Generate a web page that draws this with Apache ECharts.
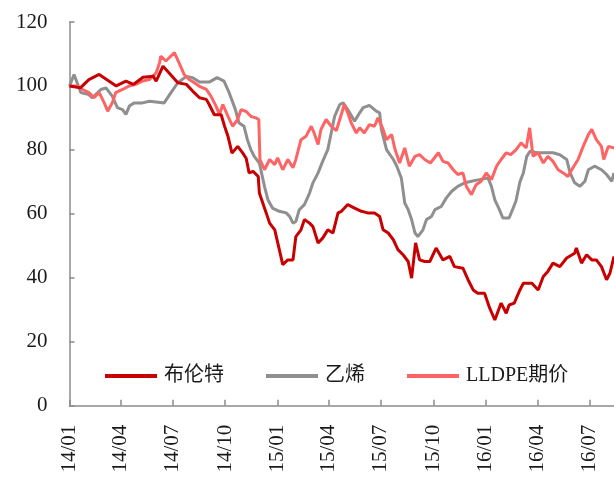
<!DOCTYPE html>
<html>
<head>
<meta charset="utf-8">
<script src="https://cdn.jsdelivr.net/npm/echarts@6/dist/echarts.min.js"></script>
<style>
  html, body { margin: 0; padding: 0; background: #fff; }
  #chart { width: 614px; height: 479px; }
</style>
</head>
<body>
<div id="chart"></div>
<script>
// Daily axis span and quarter tick labels
const startDate = '2014-01-01';
const endDate = '2016-08-13';
const tickLabels = ['14/01', '14/04', '14/07', '14/10', '15/01', '15/04', '15/07', '15/10', '16/01', '16/04', '16/07'];
const yTicks = [0, 20, 40, 60, 80, 100, 120];

// Index series (2014-01-01 = 100)
const brent = [
  ['2014-01-01', 100], ['2014-01-20', 99.4], ['2014-02-04', 102], ['2014-02-22', 103.6], ['2014-03-24', 100], ['2014-04-10', 101.5],
  ['2014-04-23', 100.5], ['2014-05-10', 102.7], ['2014-05-28', 103], ['2014-06-02', 101.5], ['2014-06-14', 106.2],
  ['2014-06-22', 104.6], ['2014-07-10', 101], ['2014-07-25', 100.5], ['2014-08-05', 98.4], ['2014-08-17', 96.3],
  ['2014-08-29', 95.8], ['2014-09-03', 94.2], ['2014-09-12', 91], ['2014-09-24', 91], ['2014-09-30', 87.4],
  ['2014-10-06', 84.2], ['2014-10-13', 79], ['2014-10-23', 81.1], ['2014-11-01', 79], ['2014-11-07', 77.3],
  ['2014-11-12', 72.8], ['2014-11-19', 73.3], ['2014-11-28', 71.7], ['2014-11-30', 66.5], ['2014-12-06', 63.4],
  ['2014-12-12', 60.3], ['2014-12-18', 57.1], ['2014-12-27', 55], ['2015-01-04', 48.8], ['2015-01-10', 44.1],
  ['2015-01-19', 45.6], ['2015-01-28', 45.6], ['2015-02-02', 52.9], ['2015-02-11', 55], ['2015-02-17', 58.2],
  ['2015-02-26', 57.1], ['2015-03-04', 56], ['2015-03-13', 50.9], ['2015-03-21', 52.4], ['2015-03-30', 55],
  ['2015-04-08', 54], ['2015-04-17', 60.3], ['2015-04-23', 60.8], ['2015-05-04', 62.9], ['2015-05-16', 61.8],
  ['2015-05-28', 60.8], ['2015-06-08', 60.3], ['2015-06-20', 60.3], ['2015-06-29', 59.2], ['2015-07-05', 55],
  ['2015-07-14', 54], ['2015-07-23', 51.9], ['2015-07-31', 48.8], ['2015-08-09', 47.2], ['2015-08-18', 45.1],
  ['2015-08-24', 39.9], ['2015-08-31', 50.9], ['2015-09-07', 45.6], ['2015-09-16', 45.1], ['2015-09-25', 45.1],
  ['2015-10-06', 49.3], ['2015-10-18', 45.6], ['2015-10-30', 46.7], ['2015-11-07', 43.5], ['2015-11-22', 43],
  ['2015-12-01', 39.4], ['2015-12-10', 36.2], ['2015-12-18', 35.2], ['2015-12-30', 35.2], ['2016-01-08', 30.5],
  ['2016-01-17', 26.8], ['2016-01-28', 32.1], ['2016-02-06', 28.9], ['2016-02-11', 31.5], ['2016-02-20', 32.1],
  ['2016-02-23', 32.6], ['2016-03-01', 36.2], ['2016-03-07', 38.3], ['2016-03-22', 38.3], ['2016-04-02', 36.2],
  ['2016-04-11', 40.4], ['2016-04-19', 42], ['2016-04-28', 44.6], ['2016-05-10', 43.5], ['2016-05-22', 46.2],
  ['2016-06-05', 47.7], ['2016-06-08', 49.3], ['2016-06-17', 44.6], ['2016-06-26', 47.2], ['2016-07-05', 45.6],
  ['2016-07-13', 45.6], ['2016-07-22', 43.5], ['2016-07-31', 39.4], ['2016-08-06', 41.5], ['2016-08-13', 46.7]
];

const ethylene = [
  ['2014-01-01', 100], ['2014-01-09', 103.6], ['2014-01-21', 97.9], ['2014-02-04', 97.3], ['2014-02-10', 96.3],
  ['2014-02-25', 98.9], ['2014-03-06', 99.4], ['2014-03-17', 96.8], ['2014-03-26', 93.2], ['2014-04-04', 92.6],
  ['2014-04-10', 91.1], ['2014-04-16', 93.7], ['2014-04-24', 94.7], ['2014-05-09', 94.7], ['2014-05-21', 95.2],
  ['2014-06-02', 95], ['2014-06-16', 94.7], ['2014-06-28', 97.9], ['2014-07-10', 101], ['2014-07-25', 103],
  ['2014-08-05', 102.6], ['2014-08-17', 101.2], ['2014-09-03', 101.2], ['2014-09-17', 102.6], ['2014-09-29', 101.5],
  ['2014-10-08', 97.9], ['2014-10-19', 92.6], ['2014-10-25', 88.5], ['2014-11-03', 87.4], ['2014-11-09', 83.2],
  ['2014-11-15', 80.1], ['2014-11-21', 78], ['2014-11-30', 75.9], ['2014-12-09', 68.6], ['2014-12-15', 64.4],
  ['2014-12-23', 61.8], ['2015-01-04', 60.8], ['2015-01-16', 60.3], ['2015-01-22', 59.2], ['2015-01-28', 57.1],
  ['2015-02-02', 57.6], ['2015-02-08', 61.3], ['2015-02-17', 62.9], ['2015-02-26', 66.5], ['2015-03-04', 69.7],
  ['2015-03-13', 72.8], ['2015-03-21', 76.4], ['2015-03-30', 80.1], ['2015-04-05', 85.3], ['2015-04-11', 90.5],
  ['2015-04-20', 94.2], ['2015-04-26', 94.7], ['2015-05-04', 92.6], ['2015-05-16', 89], ['2015-05-25', 91.6],
  ['2015-05-31', 93.2], ['2015-06-11', 93.9], ['2015-06-23', 92.1], ['2015-06-29', 91.6], ['2015-07-02', 86.4],
  ['2015-07-11', 80.1], ['2015-07-23', 77], ['2015-07-29', 74.9], ['2015-08-06', 71.2], ['2015-08-12', 63.4],
  ['2015-08-18', 61.3], ['2015-08-24', 58.2], ['2015-08-30', 54], ['2015-09-04', 52.9], ['2015-09-13', 55],
  ['2015-09-19', 58.2], ['2015-09-28', 59.2], ['2015-10-04', 61.3], ['2015-10-15', 62.3], ['2015-10-24', 65],
  ['2015-11-02', 67], ['2015-11-13', 68.6], ['2015-11-25', 69.7], ['2015-12-07', 70.2], ['2015-12-21', 70.7],
  ['2016-01-05', 71.2], ['2016-01-11', 68.6], ['2016-01-17', 64.4], ['2016-01-25', 61.3], ['2016-01-31', 58.7],
  ['2016-02-11', 58.7], ['2016-02-17', 61.3], ['2016-02-23', 64], ['2016-03-01', 70], ['2016-03-07', 72.8],
  ['2016-03-13', 78], ['2016-03-19', 79.6], ['2016-03-31', 79.1], ['2016-04-14', 79.1], ['2016-04-28', 79.1],
  ['2016-05-10', 78.5], ['2016-05-22', 77], ['2016-05-28', 72.8], ['2016-06-05', 69.7], ['2016-06-14', 68.6],
  ['2016-06-23', 70.2], ['2016-06-29', 73.8], ['2016-07-10', 74.9], ['2016-07-22', 73.8], ['2016-07-31', 72.3],
  ['2016-08-09', 70.2], ['2016-08-13', 72.8]
];

const lldpe = [
  ['2014-01-01', 100], ['2014-01-12', 100], ['2014-01-24', 98.9], ['2014-02-04', 97.9], ['2014-02-13', 96.3],
  ['2014-02-22', 97.9], ['2014-03-03', 94.7], ['2014-03-09', 92.1], ['2014-03-17', 94.7], ['2014-03-23', 97.9],
  ['2014-04-04', 98.9], ['2014-04-16', 100], ['2014-04-27', 100.5], ['2014-05-09', 101.5], ['2014-05-21', 102],
  ['2014-06-02', 104.1], ['2014-06-08', 107.3], ['2014-06-10', 109.3], ['2014-06-19', 107.8], ['2014-07-04', 110.4],
  ['2014-07-12', 107.3], ['2014-07-21', 103.6], ['2014-07-30', 102], ['2014-08-08', 101], ['2014-08-17', 99.9],
  ['2014-08-29', 98.9], ['2014-09-06', 96.8], ['2014-09-15', 93.7], ['2014-09-21', 91.1], ['2014-09-27', 94.2],
  ['2014-10-06', 90.5], ['2014-10-14', 87.4], ['2014-10-23', 89.5], ['2014-10-29', 92.6], ['2014-11-07', 92],
  ['2014-11-15', 90.5], ['2014-11-24', 90], ['2014-11-29', 89.5], ['2014-12-01', 77], ['2014-12-09', 73.8],
  ['2014-12-18', 77], ['2014-12-27', 75.4], ['2015-01-01', 77.5], ['2015-01-10', 73.8], ['2015-01-19', 77],
  ['2015-01-28', 74.4], ['2015-02-02', 77], ['2015-02-11', 83.2], ['2015-02-20', 84.3], ['2015-03-01', 87.4],
  ['2015-03-06', 85.3], ['2015-03-13', 81.7], ['2015-03-18', 86.4], ['2015-03-27', 89.5], ['2015-04-05', 87.4],
  ['2015-04-14', 86], ['2015-04-20', 89.5], ['2015-04-28', 94.2], ['2015-05-04', 91.6], ['2015-05-10', 88.5],
  ['2015-05-19', 85.3], ['2015-05-25', 86.9], ['2015-06-02', 85.3], ['2015-06-11', 87.9], ['2015-06-20', 87.4],
  ['2015-06-26', 90], ['2015-07-05', 86.4], ['2015-07-11', 83.2], ['2015-07-20', 84.8], ['2015-07-26', 80.1],
  ['2015-08-03', 75.9], ['2015-08-12', 80.6], ['2015-08-20', 74.9], ['2015-08-30', 78], ['2015-09-07', 78.5],
  ['2015-09-16', 77], ['2015-09-26', 75.9], ['2015-10-10', 79.1], ['2015-10-18', 76.4], ['2015-10-27', 75.9],
  ['2015-11-05', 73.8], ['2015-11-13', 72.3], ['2015-11-22', 72.8], ['2015-11-28', 68.6], ['2015-12-07', 66],
  ['2015-12-15', 69.1], ['2015-12-24', 70.2], ['2016-01-02', 72.8], ['2016-01-11', 70.7], ['2016-01-20', 74.9],
  ['2016-01-28', 77], ['2016-02-06', 79.1], ['2016-02-14', 78.5], ['2016-02-23', 80], ['2016-03-03', 82.2],
  ['2016-03-12', 80.6], ['2016-03-18', 86.9], ['2016-03-24', 78], ['2016-04-02', 79.1], ['2016-04-11', 75.9],
  ['2016-04-19', 78], ['2016-04-28', 76.4], ['2016-05-07', 73.8], ['2016-05-16', 72.8], ['2016-05-24', 71.7],
  ['2016-06-02', 74.4], ['2016-06-11', 77], ['2016-06-20', 81.1], ['2016-06-29', 84.8], ['2016-07-05', 86.4],
  ['2016-07-13', 83.2], ['2016-07-22', 81.1], ['2016-07-26', 77], ['2016-08-03', 81.1], ['2016-08-13', 80.6]
];

// Calendar-day categories for the x axis
function buildDays(from, to) {
  const out = [];
  const d = new Date(from + 'T00:00:00Z');
  const end = new Date(to + 'T00:00:00Z');
  while (d <= end) {
    out.push(d.toISOString().slice(0, 10));
    d.setUTCDate(d.getUTCDate() + 1);
  }
  return out;
}
const days = buildDays(startDate, endDate);

function shortLabel(day) { return day.slice(2, 4) + '/' + day.slice(5, 7); }
function isQuarterTick(day) { return day.slice(8, 10) === '01' && tickLabels.indexOf(shortLabel(day)) >= 0; }

const serifFont = "'Liberation Serif', 'Noto Sans CJK SC', serif";
const axisGrey = '#8c8c8c';

const chart = echarts.init(document.getElementById('chart'), null, { renderer: 'canvas' });
chart.setOption({
  animation: false,
  backgroundColor: '#ffffff',
  grid: { left: 69.5, right: 0, top: 22, bottom: 73.3, containLabel: false },
  legend: {
    left: 100,
    top: 361,
    itemWidth: 52,
    itemHeight: 4,
    itemGap: 42,
    icon: 'rect',
    textStyle: { fontFamily: serifFont, fontSize: 20, color: '#1a1a1a', padding: [0, 0, 0, 2] },
    data: ['布伦特', '乙烯', 'LLDPE期价']
  },
  xAxis: {
    type: 'category',
    data: days,
    boundaryGap: false,
    axisLine: { lineStyle: { color: axisGrey, width: 1.5 } },
    axisTick: { inside: true, length: 6, interval: (i, v) => isQuarterTick(v), lineStyle: { color: axisGrey, width: 1.5 } },
    axisLabel: {
      interval: (i, v) => isQuarterTick(v),
      formatter: (v) => shortLabel(v),
      rotate: 90,
      margin: 19,
      fontFamily: serifFont,
      fontSize: 21,
      color: '#1a1a1a'
    },
    splitLine: { show: false }
  },
  yAxis: {
    type: 'value',
    min: yTicks[0],
    max: yTicks[yTicks.length - 1],
    interval: 20,
    axisLine: { show: true, lineStyle: { color: axisGrey, width: 1.5 } },
    axisTick: { show: true, inside: true, length: 5, lineStyle: { color: axisGrey, width: 1.5 } },
    axisLabel: { margin: 22, fontFamily: serifFont, fontSize: 21, color: '#1a1a1a' },
    splitLine: { show: false }
  },
  series: [
    { name: '布伦特', type: 'line', data: brent, showSymbol: false, symbol: 'none', z: 4,
      lineStyle: { color: '#c80000', width: 3 }, itemStyle: { color: '#c80000' } },
    { name: '乙烯', type: 'line', data: ethylene, showSymbol: false, symbol: 'none', z: 2,
      lineStyle: { color: '#8f8f8f', width: 3 }, itemStyle: { color: '#8f8f8f' } },
    { name: 'LLDPE期价', type: 'line', data: lldpe, showSymbol: false, symbol: 'none', z: 3,
      lineStyle: { color: '#ff6464', width: 3 }, itemStyle: { color: '#ff6464' } }
  ]
});
</script>
</body>
</html>
